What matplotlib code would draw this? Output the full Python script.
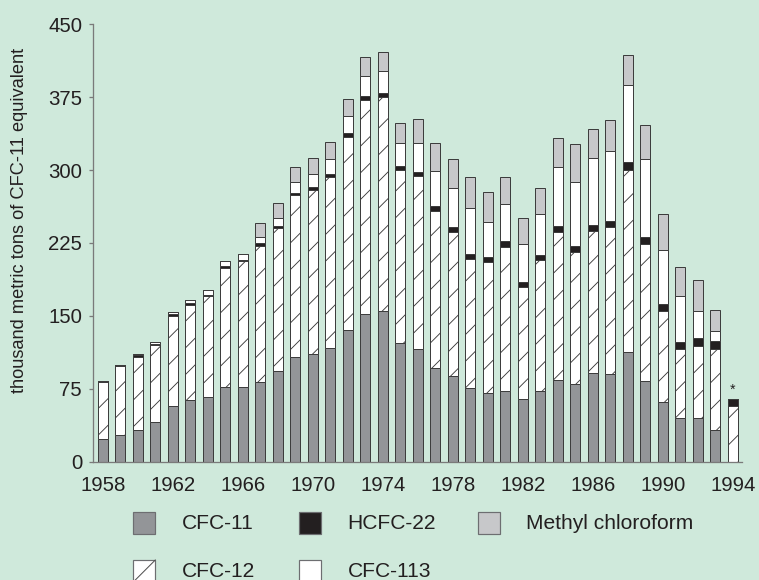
#!/usr/bin/env python3
import numpy as np
import matplotlib
matplotlib.use("Agg")
import matplotlib.pyplot as plt
from matplotlib.patches import Rectangle
from matplotlib.lines import Line2D

years = list(range(1958, 1995))

cfc11 = [23, 27, 33, 41, 57, 63, 67, 77, 77, 82, 93, 108, 111, 117, 136, 152, 155,
         122, 116, 96, 88, 76, 71, 73, 64, 73, 84, 80, 91, 90, 113, 83, 61, 45, 45, 33, 0]
cfc12 = [59, 71, 75, 79, 93, 98.5, 103, 122.6, 129, 140, 147, 166, 169, 176, 198, 220, 220,
         178, 178, 162, 148, 132.5, 134, 147.5, 116, 134, 152, 136, 146, 151, 187, 141, 94,
         71, 74, 83, 57]
hcfc22 = [1, 1.4, 2, 1.5, 1.7, 1.4, 1.7, 2, 2, 2.7, 2.7, 2.7, 2.7, 3, 3.8, 3.8, 4,
          3.8, 4.5, 5, 5, 5, 5.2, 6.5, 5, 5.8, 6.9, 6.2, 6.9, 6.9, 7.9, 7.2, 7.2, 7.5, 7.9, 7.9, 7.5]
cfc113 = [0, 0, 1, 2, 2.7, 3.4, 4.5, 4.8, 6, 6.9, 8.2, 10.6, 13.4, 15, 17.5, 21, 22.6,
          23.7, 29, 35.7, 40.5, 47, 36.5, 38.4, 39.4, 41.8, 60, 65.5, 69, 72, 79.6, 80.6, 55.2,
          47.3, 28, 10.3, 0]
methyl = [0, 0, 0, 0, 0, 0, 0, 0, 0, 14, 15, 16.3, 16.8, 17.8, 18.2, 19.2, 19.5,
          21.3, 25, 28.8, 29.8, 32.6, 31.2, 27.8, 26.7, 26.7, 30.2, 39.4, 29.5, 31.5, 31, 35, 37,
          29, 32, 21.6, 0]

series = [
    ("CFC-11", cfc11, "#939598", None),
    ("CFC-12", cfc12, "white", "/"),
    ("HCFC-22", hcfc22, "#231f20", None),
    ("CFC-113", cfc113, "white", None),
    ("Methyl chloroform", methyl, "#c7c8ca", None),
]

xticks = list(range(1958, 1995, 4))
yticks = [0, 75, 150, 225, 300, 375, 450]
ylabel = "thousand metric tons of CFC-11 equivalent"

BG = "#cfe9db"
TXT = "#231f20"
AXC = "#7a7a7a"
EDGE = "#3d3d3d"

DPI = 80
W, H = 759, 580
PT = 72 / DPI  # points per pixel

plt.rcParams["font.family"] = ["Liberation Sans", "DejaVu Sans"]
plt.rcParams["hatch.linewidth"] = 0.9 * PT

fig = plt.figure(figsize=(W / DPI, H / DPI), dpi=DPI, facecolor=BG)
ax = fig.add_axes([93.3 / W, 1 - 461.7 / H, (741.7 - 93.3) / W, (461.7 - 24.3) / H])
ax.set_facecolor(BG)

bottom = np.zeros(len(years))
for name, vals, color, hatch in series:
    vals = np.array(vals, dtype=float)
    ax.bar(years, vals, width=0.56, bottom=bottom, color=color, edgecolor=EDGE,
           linewidth=1.0 * PT, hatch=hatch, label=name, zorder=2)
    bottom += vals

# asterisk over the last (partial) year
ax.text(years[-1], bottom[-1] + 9, "*", ha="center", va="center",
        fontsize=14 * PT, color=TXT)

ax.set_xlim(1957.46, 1994.51)
ax.set_ylim(0, 450)
ax.set_xticks(xticks)
ax.set_xticklabels([str(y) for y in xticks])
ax.set_yticks(yticks)

for side in ("top", "right"):
    ax.spines[side].set_visible(False)
for side in ("left", "bottom"):
    ax.spines[side].set_color(AXC)
    ax.spines[side].set_linewidth(1.3 * PT)

ax.tick_params(axis="y", length=4 * PT, width=1.3 * PT, color=AXC, pad=7.2 * PT,
               labelsize=20.4 * PT, labelcolor=TXT)
ax.tick_params(axis="x", length=0, pad=14.5 * PT, labelsize=20.4 * PT, labelcolor=TXT)

fig.text(19.5 / W, 1 - 220 / H, ylabel, rotation=90, ha="center", va="center",
         fontsize=18.3 * PT, color=TXT)

# legend, laid out by hand in pixel positions
legend_items = [
    ("CFC-11", "#939598", False, 0, 0),
    ("HCFC-22", "#231f20", False, 1, 0),
    ("Methyl chloroform", "#c7c8ca", False, 2, 0),
    ("CFC-12", "white", True, 0, 1),
    ("CFC-113", "white", False, 1, 1),
]
col_box = [133.3, 299.0, 478.0]
col_txt = [182.3, 347.7, 526.4]
row_top = [512.3, 560.0]
row_base = [529.0, 577.0]
box = 22

for label, color, diag, c, r in legend_items:
    x0, y0 = col_box[c], row_top[r]
    fig.add_artist(Rectangle((x0 / W, 1 - (y0 + box) / H), box / W, box / H,
                             transform=fig.transFigure, facecolor=color,
                             edgecolor="#6d6e71", linewidth=1.2 * PT))
    if diag:
        fig.add_artist(Line2D([x0 / W, (x0 + box) / W], [1 - (y0 + box) / H, 1 - y0 / H],
                              transform=fig.transFigure, color="#4d4d4d",
                              linewidth=1.0 * PT))
    fig.text(col_txt[c] / W, 1 - row_base[r] / H, label, ha="left", va="baseline",
             fontsize=21 * PT, color=TXT)

fig.savefig("out.png", dpi=DPI, facecolor=BG)
